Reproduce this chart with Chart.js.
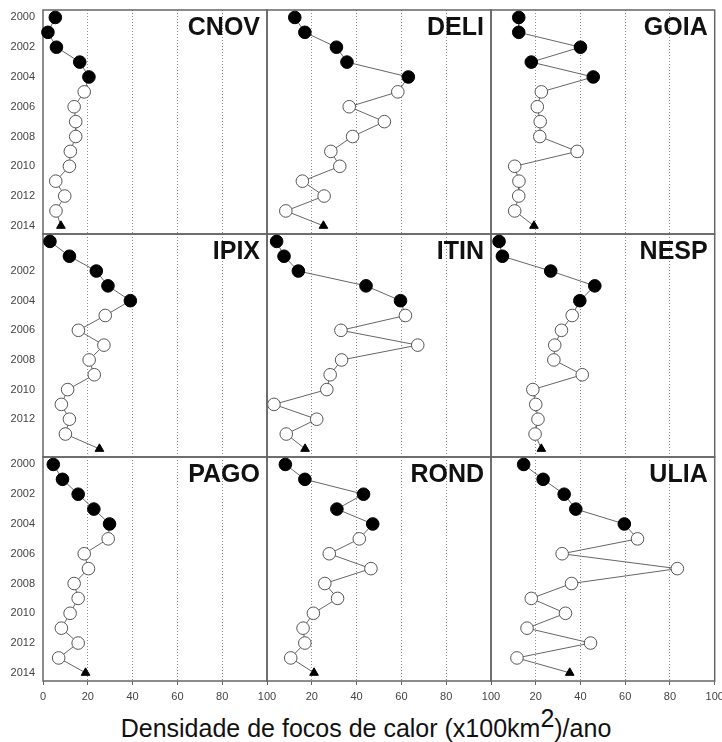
<!DOCTYPE html>
<html>
<head>
<meta charset="utf-8">
<script src="https://cdn.jsdelivr.net/npm/chart.js@4"></script>
<style>
  html, body { margin: 0; padding: 0; background: #fff; }
  #quadro { position: relative; width: 722px; height: 742px; overflow: hidden; }
  #quadro canvas { position: absolute; left: 0; top: 0; }
  #eixoX {
    position: absolute; left: 0; top: 714px; width: 732px;
    text-align: center; font-family: "Liberation Sans", Arial, sans-serif;
    font-size: 25px; line-height: 28px; color: #111;
  }
  #eixoX sup { font-size: 100%; position: relative; top: -0.4em; vertical-align: baseline; line-height: 0; }
</style>
</head>
<body>
<div id="quadro">
  <div id="eixoX">Densidade de focos de calor (x100km<sup>2</sup>)/ano</div>
</div>
<script>
const anos = [2000, 2001, 2002, 2003, 2004, 2005, 2006, 2007, 2008, 2009, 2010, 2011, 2012, 2013, 2014];
const anosRotulo = [2000, 2002, 2004, 2006, 2008, 2010, 2012, 2014];
const ticksX = [0, 20, 40, 60, 80, 100];
const siglas = ['CNOV', 'DELI', 'GOIA', 'IPIX', 'ITIN', 'NESP', 'PAGO', 'ROND', 'ULIA'];

// densidade de focos por ano (2000..2014)
const cnov = [5.5, 2.2, 6.0, 16.4, 20.5, 18.4, 13.9, 14.6, 14.6, 12.2, 11.8, 5.7, 9.7, 5.8, 8.0];
const deli = [12.4, 16.9, 31.0, 35.7, 63.1, 58.4, 36.7, 52.4, 38.2, 28.5, 32.5, 15.8, 25.5, 8.4, 25.2];
const goia = [12.4, 12.4, 40.0, 18.0, 45.7, 22.5, 20.7, 22.0, 21.8, 38.5, 10.6, 12.5, 12.4, 10.6, 19.2];
const ipix = [3.1, 11.8, 23.8, 29.0, 39.0, 27.8, 15.8, 27.2, 20.6, 22.9, 11.0, 8.2, 11.8, 10.0, 25.2];
const itin = [4.3, 7.6, 14.0, 44.2, 59.6, 61.8, 33.0, 67.3, 33.3, 28.2, 26.7, 3.1, 22.2, 8.6, 17.0];
const nesp = [3.6, 5.1, 26.7, 46.4, 39.7, 36.3, 31.5, 28.5, 28.1, 40.8, 18.7, 20.0, 21.0, 19.7, 22.5];
const pago = [4.6, 8.7, 15.7, 22.7, 29.7, 29.1, 18.4, 20.3, 13.9, 15.7, 12.1, 8.2, 15.7, 7.0, 19.0];
const rond = [8.2, 16.9, 43.1, 31.2, 47.2, 41.2, 27.8, 46.4, 25.8, 31.5, 20.7, 16.1, 16.9, 10.6, 21.0];
const ulia = [14.6, 23.3, 32.7, 37.9, 59.6, 65.5, 31.8, 83.3, 36.0, 18.0, 33.3, 16.1, 44.5, 11.6, 35.2];
const series = [cnov, deli, goia, ipix, itin, nesp, pago, rond, ulia];

// geometria dos paineis
const LARG = 722, ALT = 742;
const colEsq = [43, 267, 491];
const largPainel = 224;
const linTopo = [10, 234, 457];
const linBase = [234, 457, 681];
const fonte = '"Liberation Sans", Arial, sans-serif';

const nomePainel = {
    id: 'nomePainel',
    beforeDatasetsDraw(chart) {
        const { ctx, chartArea: a } = chart;
        ctx.save();
        ctx.strokeStyle = '#666';
        ctx.lineWidth = 1.5;
        ctx.strokeRect(a.left, a.top, a.right - a.left, a.bottom - a.top);
        ctx.restore();
    },
    afterDatasetsDraw(chart, args, opts) {
        const { ctx, chartArea: a } = chart;
        ctx.save();
        ctx.font = 'bold 25px ' + fonte;
        ctx.fillStyle = '#111';
        ctx.textAlign = 'right';
        ctx.textBaseline = 'middle';
        ctx.fillText(opts.texto, a.right - 7, a.top + 18);
        ctx.restore();
    }
};

siglas.forEach((sigla, i) => {
    const lin = Math.floor(i / 3);
    const col = i % 3;
    const yW = col === 0 ? 43 : 0;
    const xH = lin === 2 ? 30 : 0;

    const canvas = document.createElement('canvas');
    canvas.width = LARG;
    canvas.height = ALT;
    document.getElementById('quadro').appendChild(canvas);

    new Chart(canvas.getContext('2d'), {
        type: 'scatter',
        data: {
            datasets: [{
                data: anos.map((ano, k) => ({ x: series[i][k], y: ano })),
                showLine: true,
                borderColor: '#666',
                borderWidth: 1,
                pointStyle: anos.map(a => a === 2014 ? 'triangle' : 'circle'),
                pointRadius: anos.map(a => a === 2014 ? 5 : 6.3),
                pointBackgroundColor: anos.map(a => (a <= 2004 || a === 2014) ? '#000' : '#fff'),
                pointBorderColor: anos.map(a => (a <= 2004 || a === 2014) ? '#000' : '#555'),
                pointBorderWidth: 1,
                clip: false
            }]
        },
        options: {
            responsive: false,
            animation: false,
            events: [],
            layout: {
                padding: {
                    left: col === 0 ? 0 : colEsq[col],
                    right: LARG - colEsq[col] - largPainel,
                    top: linTopo[lin],
                    bottom: ALT - linBase[lin] - xH
                }
            },
            plugins: {
                legend: { display: false },
                tooltip: { enabled: false },
                nomePainel: { texto: sigla }
            },
            scales: {
                x: {
                    type: 'linear',
                    min: 0,
                    max: 100,
                    afterBuildTicks: ax => { ax.ticks = ticksX.map(v => ({ value: v })); },
                    afterFit: ax => {
                        ax.height = xH;
                        ax.paddingLeft = 0; ax.paddingRight = 0;
                        ax.paddingTop = 0; ax.paddingBottom = 0;
                    },
                    grid: {
                        color: c => (c.tick && c.tick.value > 0 && c.tick.value < 100) ? '#8c8c8c' : 'rgba(0,0,0,0)',
                        lineWidth: 1,
                        drawTicks: lin === 2,
                        tickLength: 4,
                        tickColor: '#666',
                        tickBorderDash: []
                    },
                    border: { display: false, dash: [1, 2] },
                    ticks: {
                        display: lin === 2,
                        padding: 5,
                        color: '#444',
                        autoSkip: false,
                        maxRotation: 0,
                        font: { family: fonte, size: 11 },
                        callback: v => (col > 0 && v === 0) ? '' : String(v)
                    }
                },
                y: {
                    type: 'linear',
                    reverse: true,
                    min: 1999.5,
                    max: 2014.55,
                    afterBuildTicks: ax => {
                        ax.ticks = anosRotulo
                            .filter(a => lin !== 1 || (a > 2000 && a < 2014))
                            .map(v => ({ value: v }));
                    },
                    afterFit: ax => {
                        ax.width = yW;
                        ax.paddingLeft = 0; ax.paddingRight = 0;
                        ax.paddingTop = 0; ax.paddingBottom = 0;
                    },
                    grid: { display: false, drawTicks: false },
                    border: { display: false },
                    ticks: {
                        display: col === 0,
                        padding: 8,
                        color: '#444',
                        autoSkip: false,
                        font: { family: fonte, size: 11 },
                        callback: v => String(v)
                    }
                }
            }
        },
        plugins: [nomePainel]
    });
});
</script>
</body>
</html>
